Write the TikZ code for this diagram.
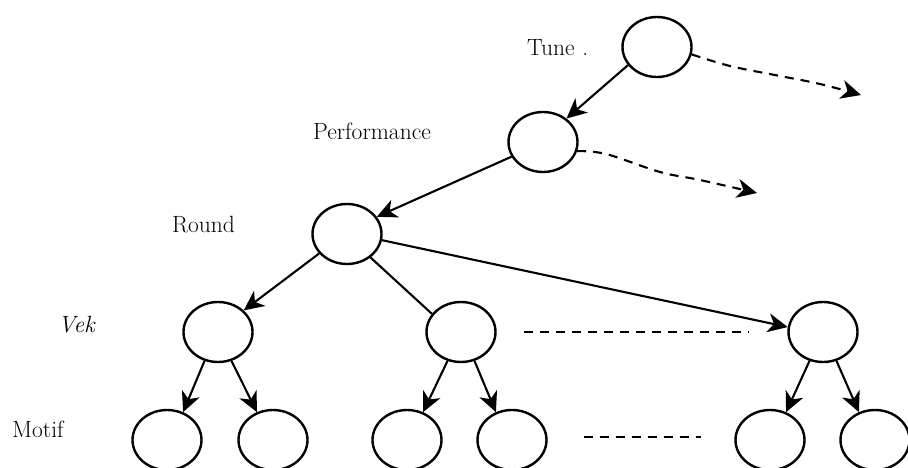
\documentclass[tikz,border=0pt]{standalone}
\usetikzlibrary{shapes.geometric,arrows.meta}
\begin{document}
\begin{tikzpicture}[x=1pt,y=-1pt,
  nd/.style={draw,ellipse,line width=2.4pt,fill=white,minimum width=69pt,minimum height=60pt,inner sep=0pt},
  arr/.style={line width=2.1pt,-{Stealth[length=20pt,width=19pt,inset=6pt]}},
  darr/.style={arr,dash pattern=on 9pt off 7pt},
  dl/.style={line width=2.1pt,dash pattern=on 9pt off 7pt},
  lbl/.style={font=\fontsize{23.5}{28}\selectfont,anchor=base west,inner sep=0pt}]
\useasboundingbox (0,0) rectangle (908,468);
% nodes
\node[nd] (tune) at (657,47) {};
\node[nd] (perf) at (543,142) {};
\node[nd] (round) at (347,234) {};
\node[nd] (v1) at (218,332) {};
\node[nd] (v2) at (461,332) {};
\node[nd] (v3) at (823,332) {};
\node[nd] (m1) at (167,440) {};
\node[nd] (m2) at (273,440) {};
\node[nd] (m3) at (407,440) {};
\node[nd] (m4) at (512,440) {};
\node[nd] (m5) at (770,440) {};
\node[nd] (m6) at (875,440) {};
% labels
\node[lbl] (ltune) at (527,56) {Tune\,\,.};
\node[lbl] (lperf) at (313,140) {Performance};
\node[lbl] (lround) at (172,232) {Round};
\node[lbl] (lvek) at (58,332) {\itshape Vek};
\node[lbl] (lmotif) at (12,437) {Motif};
% free ends
\coordinate (tE) at (861,95);
\coordinate (pE) at (757,193);
% connectors
\draw[arr] (tune.212) -- (perf.45);
\draw[arr] (perf.205) -- (round.30);
\draw[arr] (round.215) -- (v1.40);
\draw[line width=2.1pt] (round.-45) -- (v2.148);
\draw[arr] (round.-10) -- (v3.172);
\draw[arr] (v1.-115) -- (m1.60);
\draw[arr] (v1.-65) -- (m2.120);
\draw[arr] (v2.-115) -- (m3.60);
\draw[arr] (v2.-65) -- (m4.120);
\draw[arr] (v3.-115) -- (m5.60);
\draw[arr] (v3.-65) -- (m6.120);
\draw[darr] plot[smooth,tension=0.6] coordinates {(tune.-12) (730,66) (780,76) (820,84) (tE)};
\draw[darr] plot[smooth,tension=0.6] coordinates {(perf.-15) (606,154) (660,172) (700,180) (pE)};
\draw[dl] ([xshift=27pt]v2.east) -- ([xshift=-38pt]v3.west);
\draw[dl] ([xshift=36pt,yshift=3pt]m4.east) -- ([xshift=-33pt,yshift=3pt]m5.west);
\end{tikzpicture}
\end{document}
